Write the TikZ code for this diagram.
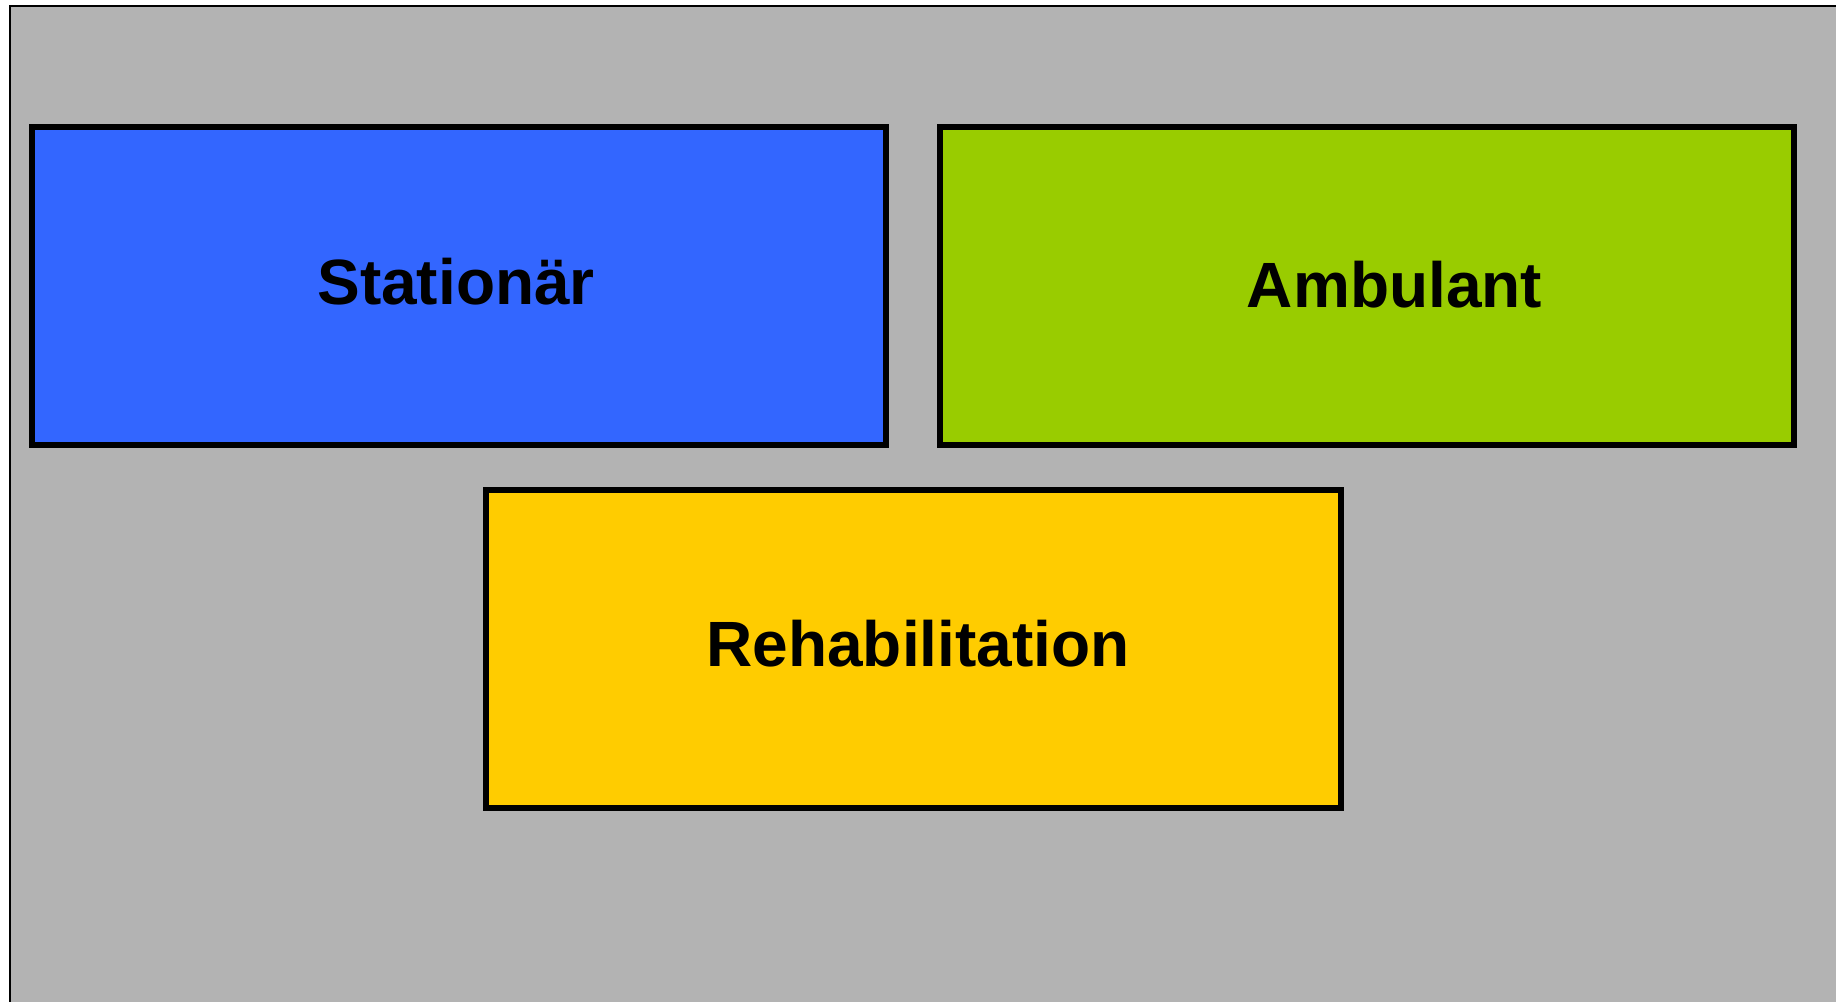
\documentclass[tikz,border=0pt]{standalone}
\usepackage{fontspec}
\setmainfont{Liberation Sans}
\definecolor{bggray}{HTML}{B3B3B3}
\definecolor{boxblue}{HTML}{3366FF}
\definecolor{boxgreen}{HTML}{99CC00}
\definecolor{boxyellow}{HTML}{FFCC00}
\begin{document}
\begin{tikzpicture}[x=1pt,y=-1pt,
  panel/.style={draw=black,line width=6pt},
  lbl/.style={anchor=base,inner sep=0pt,font=\fontsize{64}{70}\selectfont\bfseries}]
\useasboundingbox (0,0) rectangle (1836,1001);
\fill[white] (0,0) rectangle (1836,1001);
\begin{scope}
\clip (0,0) rectangle (1836,1001);
\filldraw[fill=bggray,draw=black,line width=2pt] (9.5,6.3) rectangle (1850,1020);
\end{scope}
\filldraw[panel,fill=boxblue] (32,127) rectangle (886.3,444.7);
\filldraw[panel,fill=boxgreen] (939.7,127) rectangle (1794,444.7);
\filldraw[panel,fill=boxyellow] (486,489.7) rectangle (1341,808);
\node[lbl] (stat) at (456,304) {Stationär};
\node[lbl] (amb) at (1394.5,307) {Ambulant};
\node[lbl] (reha) at (918,666) {Rehabilitation};
\end{tikzpicture}
\end{document}
